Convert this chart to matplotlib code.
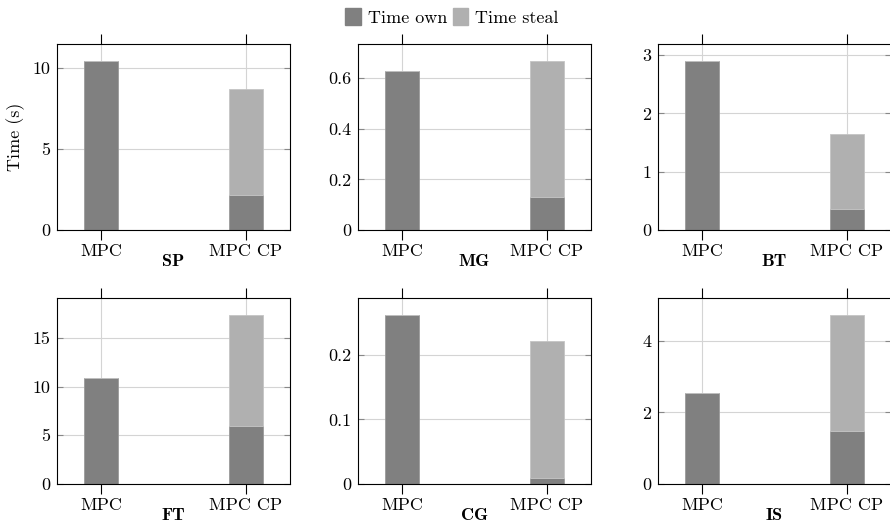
import matplotlib
matplotlib.use("Agg")
import matplotlib.pyplot as plt
from matplotlib.ticker import MultipleLocator, FuncFormatter
from matplotlib.patches import Patch

plt.rcParams['font.family'] = ['cmr10', 'DejaVu Serif']
plt.rcParams['axes.formatter.use_mathtext'] = True
plt.rcParams['font.size'] = 13

# valores
benchmarks = ['SP', 'MG', 'BT', 'FT', 'CG', 'IS']
configs = ['MPC', 'MPC CP']
time_own = [[10.43, 2.14], [0.629, 0.13], [2.90, 0.36],
            [10.89, 5.92], [0.262, 0.0093], [2.54, 1.49]]
time_steal = [[0.0, 6.54], [0.0, 0.538], [0.0, 1.29],
              [0.0, 11.44], [0.0, 0.2127], [0.0, 3.23]]
y_steps = [5, 0.2, 1, 5, 0.1, 2]

c_own = '#808080'
c_steal = '#b0b0b0'

fig = plt.figure(figsize=(8.9, 5.25), dpi=100)
W, H = 890, 525
lefts = [57, 358, 658]
tops = [44, 298]
aw, ah = 233, 186

pos = [0, 1]
for i, name in enumerate(benchmarks):
    r, c = divmod(i, 3)
    ax = fig.add_axes([lefts[c] / W, 1 - (tops[r] + ah) / H, aw / W, ah / H])
    own = time_own[i]
    steal = time_steal[i]
    ax.bar(pos, own, width=0.24, color=c_own, edgecolor='#9a9a9a', linewidth=0.6, zorder=2)
    ax.bar(pos, steal, width=0.24, bottom=own, color=c_steal, edgecolor='#c4c4c4',
           linewidth=0.6, zorder=2)
    top = max(o + s for o, s in zip(own, steal))
    ax.set_ylim(0, top * 1.1)
    ax.set_xlim(-0.303, 1.303)
    ax.set_xticks(pos)
    ax.set_xticklabels(configs)
    ax.yaxis.set_major_locator(MultipleLocator(y_steps[i]))
    ax.yaxis.set_major_formatter(FuncFormatter(lambda v, p: f'{v:g}'))
    ax.grid(True, color='#d4d4d4', linewidth=0.8, zorder=0)
    ax.set_axisbelow(True)
    ax.tick_params(axis='y', direction='in', left=True, right=True, length=4,
                   color='#888888', pad=5)
    ax.tick_params(axis='x', direction='out', top=True, length=7.2, width=0.8,
                   color='black', pad=2.5)
    for t in ax.xaxis.get_major_ticks():
        t.tick2line.set_color('#c8c8c8')
    for s in ax.spines.values():
        s.set_linewidth(0.8)
    ax.text(0.5, -32 / ah, name, transform=ax.transAxes, ha='center', va='center',
            family=['cmb10', 'DejaVu Serif'], fontsize=13)
    if i == 0:
        ax.set_ylabel('Time (s)', labelpad=5)

handles = [Patch(facecolor=c_own, edgecolor=c_own, label='Time own'),
           Patch(facecolor=c_steal, edgecolor=c_steal, label='Time steal')]
fig.legend(handles=handles, loc='center', bbox_to_anchor=(0.5 + 7 / W, 1 - 17 / H), ncol=2,
           frameon=False, handlelength=0.85, handleheight=1.1, handletextpad=0.4,
           columnspacing=0.3, fontsize=13)

fig.savefig('out.png', dpi=100)
